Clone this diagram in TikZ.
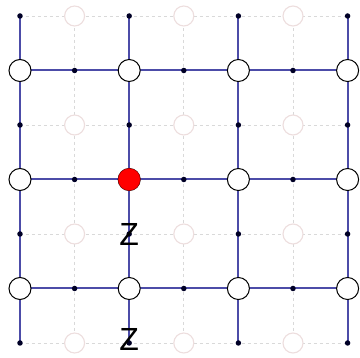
\documentclass[tikz,border=0pt]{standalone}
\usepackage{fontspec}
\setsansfont{Liberation Sans}
\definecolor{linkblue}{rgb}{0.30,0.30,0.66}
\definecolor{ghostpink}{rgb}{0.93,0.87,0.87}
\begin{document}
\begin{tikzpicture}[
  x=1pt, y=-1pt,
  edge/.style = {line width=2pt, color=linkblue},
  dual/.style = {dashed, line width=0.7pt, color=black!15},
  site/.style = {circle, draw=black, fill=white, line width=1pt, minimum size=22pt, inner sep=0pt},
  ghost/.style = {circle, draw=ghostpink, line width=1.1pt, minimum size=20pt, inner sep=0pt},
  qubit/.style = {circle, fill=black!85!blue, minimum size=5.5pt, inner sep=0pt},
  defect/.style = {circle, fill=red, draw=red!80!black, minimum size=22pt, inner sep=0pt},
  pauli/.style = {font=\sffamily\fontsize{32}{32}\selectfont, inner sep=0pt}]
  \useasboundingbox (0,0) rectangle (360,358);

  % gitterpunkte
  \foreach \i in {0,...,6}
    \foreach \j in {0,...,6}
      \coordinate (p-\i-\j) at (20+54.6*\i, 16+54.5*\j);

  % duales gitter - gestrichelt
  \foreach \i in {1,3,5}
    \draw[dual] (p-\i-0) -- (p-\i-6);
  \foreach \j in {0,2,4,6}
    \draw[dual] (p-0-\j) -- (p-6-\j);
  \foreach \i in {1,3,5}
    \foreach \j in {0,2,4,6}
      \node[ghost, fill=white] (g-\i-\j) at (p-\i-\j) {};

  % primales gitter
  \foreach \i in {0,2,4,6}
    \draw[edge] (p-\i-0) -- (p-\i-6);
  \foreach \j in {1,3,5}
    \draw[edge] (p-0-\j) -- (p-6-\j);

  % qubits auf den kanten
  \foreach \i in {0,2,4,6}
    \foreach \j in {0,2,4,6}
      \node[qubit] (q-\i-\j) at (p-\i-\j) {};
  \foreach \i in {1,3,5}
    \foreach \j in {1,3,5}
      \node[qubit] (q-\i-\j) at (p-\i-\j) {};

  % knoten
  \foreach \i in {0,2,4,6}
    \foreach \j in {1,3,5}
      \node[site] (s-\i-\j) at (p-\i-\j) {};
  \node[defect] (s-2-3) at (p-2-3) {};

  % operatoren
  \node[pauli] (z-1) at (q-2-4) {Z};
  \node[pauli] (z-2) at ([yshift=4pt]q-2-6) {Z};
\end{tikzpicture}
\end{document}
